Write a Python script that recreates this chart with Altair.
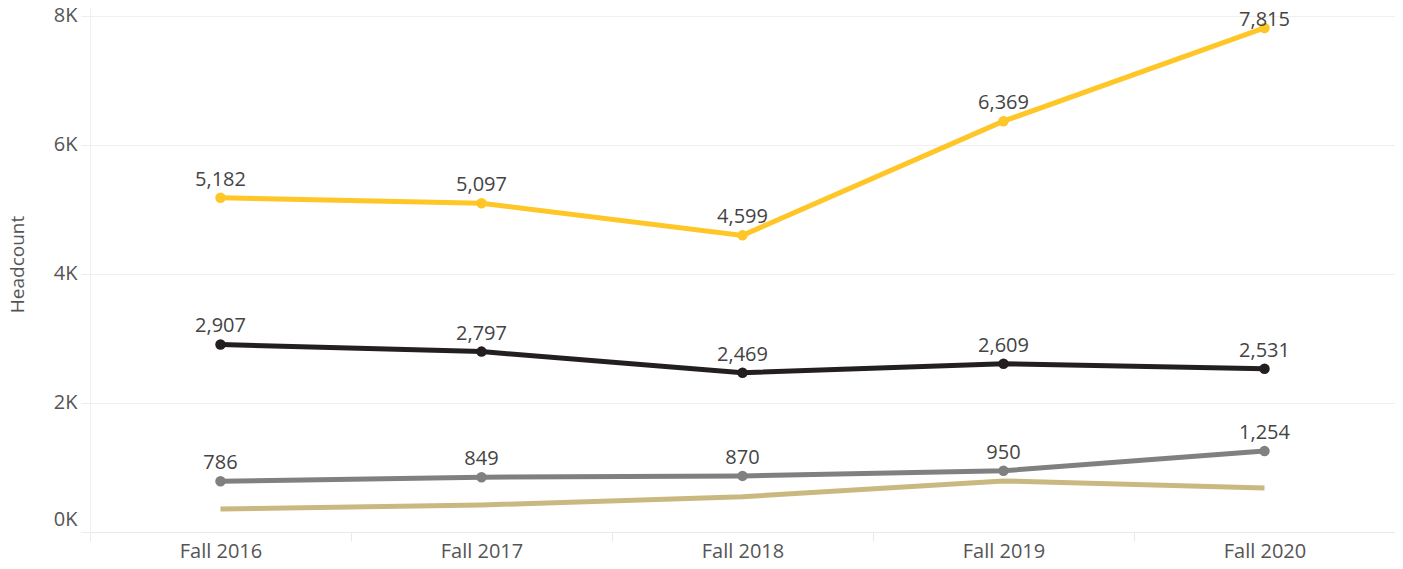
import altair as alt
import pandas as pd

terms = ["Fall 2016", "Fall 2017", "Fall 2018", "Fall 2019", "Fall 2020"]
series_names = ["Gold", "Black", "Gray", "Tan"]
gold = [5182, 5097, 4599, 6369, 7815]
black = [2907, 2797, 2469, 2609, 2531]
gray = [786, 849, 870, 950, 1254]
tan = [357, 419, 547, 791, 682]
labelled = ["Gold", "Black", "Gray"]
colors = ["#FFC627", "#231F20", "#808080", "#C9B87F"]
y_ticks = [0, 2000, 4000, 6000, 8000]

rows = []
for name, vals in zip(series_names, [gold, black, gray, tan]):
    for t, v in zip(terms, vals):
        rows.append({"Term": t, "Series": name, "Headcount": v})
df = pd.DataFrame(rows)

FONT = "Open Sans"

x_enc = alt.X("Term:N", sort=terms, bandPosition=0.5,
              scale=alt.Scale(type="band", paddingInner=0, paddingOuter=0),
              axis=alt.Axis(title=None, tickBand="extent", labelAngle=0,
                            labelFontSize=20, labelFont=FONT, labelColor="#555555",
                            tickSize=9, tickColor="#e8e8e8", domainColor="#e8e8e8",
                            labelPadding=0, grid=False))
y_enc = alt.Y("Headcount:Q",
              scale=alt.Scale(domain=[0, 8124], nice=False, zero=True),
              axis=alt.Axis(values=y_ticks, labelExpr="format(datum.value/1000, 'd') + 'K'",
                            title="Headcount", titleFont=FONT, titleFontSize=19,
                            titleFontWeight="normal", titleColor="#555555",
                            titleX=-63, titleY=256, titleAngle=270,
                            titleBaseline="bottom", titleAlign="center",
                            labelFontSize=20, labelFont=FONT, labelColor="#555555",
                            labelFlush=True, labelFlushOffset=-3, labelPadding=4,
                            tickSize=9, tickColor="#ececec",
                            domainColor="#f0f0f0", gridColor="#efefef"))
color_enc = alt.Color("Series:N", scale=alt.Scale(domain=series_names, range=colors), legend=None)

base = alt.Chart(df)

lines = alt.layer(*[
    base.transform_filter(alt.datum.Series == s).mark_line(strokeWidth=5).encode(
        x=x_enc, y=y_enc, color=color_enc)
    for s in ["Tan", "Gray", "Black", "Gold"]
])

pts = base.transform_filter(
    alt.FieldOneOfPredicate(field="Series", oneOf=labelled)
).mark_point(filled=True, size=110, opacity=1).encode(x=x_enc, y=y_enc, color=color_enc)

txt_main = base.transform_filter(
    alt.FieldOneOfPredicate(field="Series", oneOf=labelled)
).transform_filter(alt.datum.Headcount < 7500).mark_text(
    dy=-12, baseline="alphabetic", fontSize=20, font=FONT, color="#444444"
).encode(x=x_enc, y=y_enc, text=alt.Text("Headcount:Q", format=","))

txt_top = base.transform_filter(
    alt.FieldOneOfPredicate(field="Series", oneOf=labelled)
).transform_filter(alt.datum.Headcount >= 7500).mark_text(
    dy=-2, baseline="alphabetic", fontSize=20, font=FONT, color="#444444"
).encode(x=x_enc, y=y_enc, text=alt.Text("Headcount:Q", format=","))

chart = alt.layer(lines, pts, txt_main, txt_top).properties(
    width=1305, height=524,
    autosize=alt.AutoSizeParams(type="none"),
    padding={"left": 82, "top": 0, "right": 0, "bottom": 29},
).configure_view(stroke=None).configure_axis(labelFont=FONT, titleFont=FONT)

chart.save("out.html", embed_options={"renderer": "svg", "actions": False})
